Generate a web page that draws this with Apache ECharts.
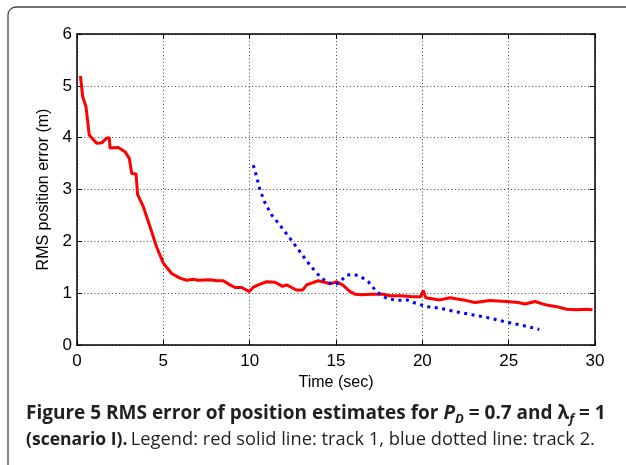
<!DOCTYPE html>
<html><head><meta charset="utf-8">
<script src="https://cdn.jsdelivr.net/npm/echarts@6/dist/echarts.min.js"></script>
<style>html,body{margin:0;padding:0;background:#fff;}#c{width:626px;height:465px;}</style>
</head><body><div id="c"></div>
<script>
const xTicks = [0, 5, 10, 15, 20, 25, 30];
const yTicks = [0, 1, 2, 3, 4, 5, 6];
const track1T = [0.2,0.33,0.52,0.71,0.95,1.14,1.43,1.72,1.87,1.91,2.39,2.78,3.03,3.17,3.42,3.51,3.84,4.23,4.61,5.0,5.48,5.96,6.35,6.74,7.0,7.7,8.09,8.47,8.86,9.15,9.54,9.98,10.2,10.5,10.98,11.47,11.9,12.14,12.43,12.72,13.07,13.3,13.97,14.46,14.65,15.04,15.42,15.81,16.1,16.48,17.06,17.74,18.12,18.7,19.47,19.9,20.05,20.2,21.02,21.6,22.37,23.05,23.91,24.88,25.55,25.94,26.52,27.2,27.78,28.36,28.93,29.51,29.86];
const track1V = [5.19,4.79,4.6,4.05,3.96,3.89,3.9,3.99,4.0,3.8,3.81,3.73,3.6,3.31,3.3,2.9,2.67,2.28,1.89,1.58,1.38,1.29,1.25,1.27,1.25,1.26,1.24,1.24,1.16,1.11,1.11,1.03,1.11,1.16,1.22,1.21,1.13,1.16,1.11,1.06,1.06,1.16,1.24,1.2,1.18,1.22,1.15,1.03,0.98,0.97,0.98,0.98,0.95,0.95,0.93,0.93,1.05,0.91,0.87,0.91,0.87,0.82,0.86,0.84,0.82,0.79,0.84,0.77,0.74,0.69,0.68,0.69,0.68];
const track2T = [10.21,10.4,10.6,10.89,11.27,11.66,12.33,12.91,13.49,14.07,14.46,14.94,15.23,15.62,16.0,16.39,16.87,17.35,17.93,18.51,19.09,19.67,20.25,21.02,21.98,22.95,23.91,24.88,25.65,26.42,26.77];
const track2V = [3.47,3.25,2.99,2.74,2.51,2.35,2.06,1.80,1.54,1.32,1.22,1.16,1.22,1.35,1.36,1.33,1.22,1.03,0.90,0.86,0.87,0.80,0.74,0.71,0.64,0.58,0.52,0.44,0.39,0.33,0.30];

const zip = (a, b) => a.map((t, i) => [t, b[i]]);
const chart = echarts.init(document.getElementById('c'), null, {renderer: 'canvas'});
const font = "'Liberation Sans', Arial, sans-serif";
const capFont = "'Open Sans', 'Noto Sans', sans-serif";
const capColor = '#231f20';
const axisBase = {
  type: 'value',
  axisLine: {show: true, onZero: false, lineStyle: {color: '#000', width: 1.5}},
  axisTick: {show: true, inside: true, length: 5, lineStyle: {color: '#000'}},
};
const gridLine = {show: true, lineStyle: {color: '#444', type: [1, 2.5], width: 1}};
const option = {
  animation: false,
  backgroundColor: '#fff',
  grid: {left: 77, right: 31, top: 34, bottom: 120, containLabel: false},
  xAxis: [
    Object.assign({}, axisBase, {
      min: xTicks[0], max: xTicks[xTicks.length - 1], interval: 5, position: 'bottom',
      name: 'Time (sec)', nameLocation: 'middle', nameGap: 28,
      nameTextStyle: {fontFamily: font, fontSize: 16, color: '#000'},
      axisLabel: {fontFamily: font, fontSize: 17, color: '#000', margin: 8},
      splitLine: gridLine
    }),
    Object.assign({}, axisBase, {
      min: xTicks[0], max: xTicks[xTicks.length - 1], interval: 5, position: 'top',
      axisLabel: {show: false}, splitLine: {show: false}
    })
  ],
  yAxis: [
    Object.assign({}, axisBase, {
      min: yTicks[0], max: yTicks[yTicks.length - 1], interval: 1, position: 'left',
      name: 'RMS position error (m)', nameLocation: 'middle', nameGap: 23,
      nameTextStyle: {fontFamily: font, fontSize: 16, color: '#000'},
      axisLabel: {fontFamily: font, fontSize: 17, color: '#000', margin: 5},
      splitLine: gridLine
    }),
    Object.assign({}, axisBase, {
      min: yTicks[0], max: yTicks[yTicks.length - 1], interval: 1, position: 'right',
      axisLabel: {show: false}, splitLine: {show: false}
    })
  ],
  series: [
    {type: 'line', name: 'track 1', data: zip(track1T, track1V), showSymbol: false, symbol: 'none',
     lineStyle: {color: '#ff0000', width: 3}, z: 3},
    {type: 'line', name: 'track 2', data: zip(track2T, track2V), showSymbol: false, symbol: 'none',
     lineStyle: {color: '#0000ff', width: 3, type: [3, 4.5]}, z: 4}
  ],
  graphic: [
    {type: 'rect', shape: {x: 8, y: 7, width: 640, height: 470, r: 8}, style: {fill: 'none', stroke: '#444', lineWidth: 1.3}, silent: true, z: -1},
    {type: 'text', x: 26, y: 414, style: {
      text: '{b|Figure 5 RMS error of position estimates for }{bi|P}{sub|D}{b| = 0.7 and λ}{sub|f}{b| = 1}',
      verticalAlign: 'middle',
      rich: {
        b: {fontFamily: capFont, fontSize: 19, fontWeight: 'bold', fill: capColor},
        bi: {fontFamily: capFont, fontSize: 19, fontWeight: 'bold', fontStyle: 'italic', fill: capColor},
        sub: {fontFamily: capFont, fontSize: 13, fontWeight: 'bold', fontStyle: 'italic', fill: capColor, padding: [10, 0, 0, 0]}
      }
    }},
    {type: 'text', x: 26, y: 440, style: {
      text: '{b|(scenario I).} {r|Legend: red solid line: track 1, blue dotted line: track 2.}',
      verticalAlign: 'middle',
      rich: {
        b: {fontFamily: capFont, fontSize: 17.5, fontWeight: 'bold', fill: capColor},
        r: {fontFamily: capFont, fontSize: 18.3, fill: capColor}
      }
    }}
  ]
};
chart.setOption(option);
</script></body></html>
